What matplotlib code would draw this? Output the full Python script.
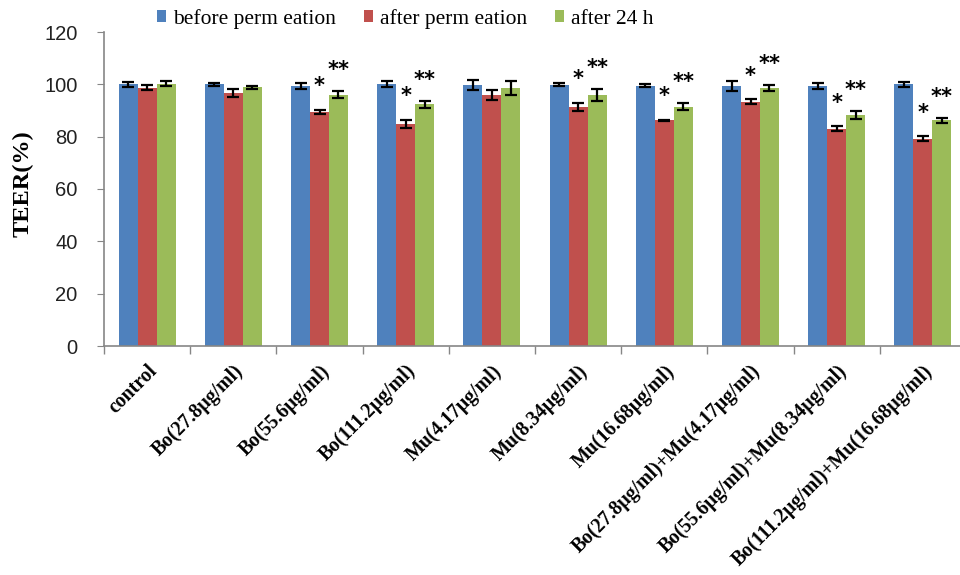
import numpy as np
import matplotlib
matplotlib.use("Agg")
import matplotlib.pyplot as plt
from matplotlib.patches import Patch

groups = [
    "control",
    "Bo(27.8µg/ml)",
    "Bo(55.6µg/ml)",
    "Bo(111.2µg/ml)",
    "Mu(4.17µg/ml)",
    "Mu(8.34µg/ml)",
    "Mu(16.68µg/ml)",
    "Bo(27.8µg/ml)+Mu(4.17µg/ml)",
    "Bo(55.6µg/ml)+Mu(8.34µg/ml)",
    "Bo(111.2µg/ml)+Mu(16.68µg/ml)",
]
before = [100.0, 100.0, 99.4, 100.0, 99.8, 99.9, 99.4, 99.4, 99.4, 100.0]
after = [98.7, 96.8, 89.5, 85.0, 96.0, 91.5, 86.3, 93.3, 83.0, 79.2]
after24 = [100.2, 98.8, 96.0, 92.3, 98.6, 96.0, 91.5, 98.6, 88.2, 86.2]
before_err = [1.0, 0.6, 1.2, 1.2, 2.0, 0.5, 0.6, 2.0, 1.3, 0.9]
after_err = [1.0, 1.5, 0.8, 1.5, 2.0, 1.5, 0.2, 1.0, 1.0, 1.0]
after24_err = [1.0, 0.7, 1.3, 1.3, 2.5, 2.2, 1.3, 1.3, 1.5, 0.8]
star_after = ["", "", "*", "*", "", "*", "*", "*", "*", "*"]
star_after24 = ["", "", "**", "**", "", "**", "**", "**", "**", "**"]
series_names = ["before perm eation", "after perm eation", "after 24 h"]
colors = ["#4F81BD", "#C0504D", "#9BBB59"]

fig = plt.figure(figsize=(9.6, 5.75), dpi=100)
ax = fig.add_axes([104 / 960, (575 - 346) / 575, 862 / 960, 314 / 575])

x = np.arange(len(groups))
w = 0.22
for k, (vals, errs) in enumerate([(before, before_err), (after, after_err), (after24, after24_err)]):
    ax.bar(x + (k - 1) * w, vals, width=w, color=colors[k], zorder=2)
    ax.errorbar(x + (k - 1) * w, vals, yerr=errs, fmt="none", ecolor="black",
                elinewidth=1.6, capsize=4, capthick=1.6, zorder=3)

# significance marks
for i in range(len(groups)):
    if star_after[i]:
        ax.text(x[i], after[i] + after_err[i] + 9, star_after[i], ha="center",
                va="center", fontsize=15, fontweight="bold", family="DejaVu Sans")
    if star_after24[i]:
        ax.text(x[i] + w, after24[i] + after24_err[i] + 8, star_after24[i], ha="center",
                va="center", fontsize=15, fontweight="bold", family="DejaVu Sans")

ax.set_xlim(-0.5, len(groups) - 0.5)
ax.set_ylim(0, 120)
ax.set_yticks(range(0, 121, 20))
ax.tick_params(axis="y", labelsize=14.5, length=5, color="#868686", labelcolor="#222222", pad=14)
for lab in ax.get_yticklabels():
    lab.set_family("Liberation Sans")

ax.set_xticks(x)
ax.set_xticklabels(groups, rotation=45, ha="right", va="top", rotation_mode="anchor",
                   family="Liberation Serif", fontweight="bold", fontsize=14.2)
ax.tick_params(axis="x", which="major", length=0, pad=11)
ax.set_xticks(np.arange(-0.5, len(groups), 1.0), minor=True)
ax.tick_params(axis="x", which="minor", length=6, color="#868686", width=1)

for s in ["top", "right"]:
    ax.spines[s].set_visible(False)
for s in ["left", "bottom"]:
    ax.spines[s].set_color("#868686")
    ax.spines[s].set_linewidth(1.2)

ax.set_ylabel("TEER(%)", family="Liberation Serif", fontweight="bold", fontsize=17.5, va="center")
ax.yaxis.set_label_coords((23 - 104) / 862, 0.517)

handles = [Patch(facecolor=c) for c in colors]
fig.legend(handles, series_names, loc="center", bbox_to_anchor=(405 / 960, 1 - 19 / 575),
           ncol=3, frameon=False, prop={"family": "Liberation Serif", "size": 15.5},
           handlelength=0.45, handleheight=0.45, handletextpad=0.3, columnspacing=1.3)

fig.savefig("out.png", dpi=100)
